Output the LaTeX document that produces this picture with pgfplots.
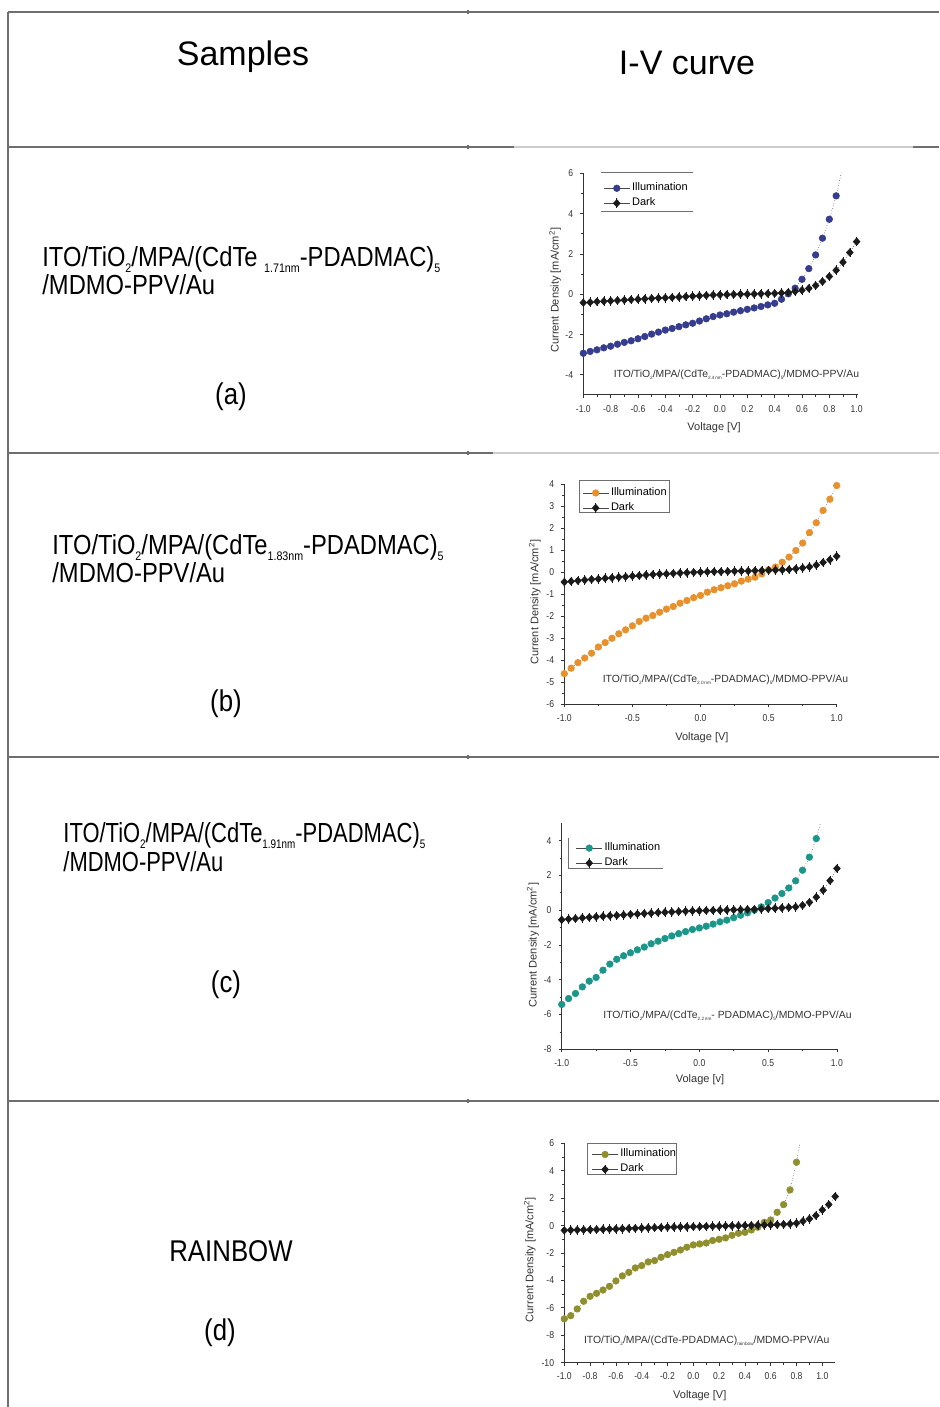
\documentclass[border=0pt]{standalone}
\usepackage{fontspec}
\setmainfont{Liberation Sans}
\newfontfamily\nar{Liberation Sans}[FakeStretch=0.86]
\usepackage{graphicx}
\usepackage{pgfplots}
\pgfplotsset{compat=1.18}

\definecolor{rule}{HTML}{6E6E6E}
\definecolor{rulelight}{HTML}{CDCDCD}
\definecolor{illA}{HTML}{363C8E}
\definecolor{illB}{HTML}{E8912C}
\definecolor{illC}{HTML}{1B968A}
\definecolor{illD}{HTML}{8F8F2E}
\definecolor{dk}{HTML}{1A1A1A}
\definecolor{axc}{HTML}{333333}

\newcommand\sub[1]{\raisebox{-0.35ex}{\scalebox{0.45}{#1}}}

% diamond with a short vertical stroke, as used for the dark curves
\pgfdeclareplotmark{dbar}{%
  \pgfpathmoveto{\pgfqpoint{0pt}{1.5\pgfplotmarksize}}%
  \pgfpathlineto{\pgfqpoint{0pt}{-1.5\pgfplotmarksize}}%
  \pgfusepathqstroke
  \pgfpathmoveto{\pgfqpoint{0pt}{1.15\pgfplotmarksize}}%
  \pgfpathlineto{\pgfqpoint{1.05\pgfplotmarksize}{0pt}}%
  \pgfpathlineto{\pgfqpoint{0pt}{-1.15\pgfplotmarksize}}%
  \pgfpathlineto{\pgfqpoint{-1.05\pgfplotmarksize}{0pt}}%
  \pgfpathclose
  \pgfusepathqfillstroke}

\pgfplotsset{
  ivstyle/.style={
    scale only axis,
    axis lines=left,
    axis line style={-, line width=0.5pt, draw=axc},
    tick align=outside,
    major tick length=1.6pt,
    minor tick length=1pt,
    every tick/.style={draw=axc, line width=0.4pt},
    minor x tick num=1, minor y tick num=1,
    tick label style={font=\nar\fontsize{5}{6}\selectfont, text=axc},
    yticklabel style={/pgf/number format/assume math mode=true},
    xticklabel style={/pgf/number format/.cd, fixed, fixed zerofill, precision=1, assume math mode=true},
    label style={font=\fontsize{5.5}{6}\selectfont, text=axc},
    ylabel={Current Density [mA/cm\textsuperscript{2}]},
    clip mode=individual,
    legend cell align=left,
    legend style={draw=none, fill=none, font=\fontsize{5.5}{6.5}\selectfont,
      inner sep=0pt, nodes={inner sep=1pt, text depth=0.15em}, anchor=north west},
    legend image code/.code={%
      \draw[#1, solid] (0pt,0pt) -- (13pt,0pt);
      \draw[#1, solid] plot coordinates {(6.5pt,0pt)};},
  },
  illum/.style={densely dotted, line width=0.3pt, draw=dk!80,
    mark=*, mark size=1.65pt, mark options={solid, fill=#1, draw=#1}},
  dark/.style={densely dotted, line width=0.3pt, draw=dk!80,
    mark=dbar, mark size=1.6pt, mark options={solid, fill=dk, draw=dk, line width=0.3pt}},
}

\begin{document}
\begin{tikzpicture}[x=0.5pt,y=0.5pt]
\path[use as bounding box] (0,0) rectangle (939,1407);

% table rules
\begin{scope}[line width=1pt]
\draw[rule] (8,1407-12) -- (939,1407-12);
\draw[rule] (8,1407-12) -- (8,0);
\draw[rule] (8,1407-147) -- (514,1407-147);
\draw[rulelight] (514,1407-147) -- (913,1407-147);
\draw[rule] (913,1407-147) -- (939,1407-147);
\draw[rule] (8,1407-453) -- (493,1407-453);
\draw[rulelight] (493,1407-453) -- (939,1407-453);
\draw[rule] (8,1407-757) -- (939,1407-757);
\draw[rule] (8,1407-1101) -- (939,1407-1101);
\end{scope}
\foreach \yy in {12,147,453,757,1101}
  \draw[rule, line width=0.6pt] (468,1407-\yy+2) -- (468,1407-\yy-2);

% headings
\node[font=\fontsize{17}{20}\selectfont] at (243,1407-57) {Samples};
\node[font=\fontsize{17}{20}\selectfont] at (687,1407-63) {I-V curve};

% sample descriptions
\begin{scope}[every node/.style={anchor=base west, font=\nar\fontsize{13.8}{16}\selectfont, inner sep=0pt}]
\node at (42,1407-267) {ITO/TiO\sub{2}/MPA/(CdTe \sub{1.71nm}-PDADMAC)\sub{5}};
\node at (42,1407-295) {/MDMO-PPV/Au};
\node at (52,1407-555) {ITO/TiO\sub{2}/MPA/(CdTe\sub{1.83nm}-PDADMAC)\sub{5}};
\node at (52,1407-583) {/MDMO-PPV/Au};
\node at (63,1407-843) {\scalebox{0.925}[1]{ITO/TiO\sub{2}/MPA/(CdTe\sub{1.91nm}-PDADMAC)\sub{5}}};
\node at (63,1407-872) {\scalebox{0.925}[1]{/MDMO-PPV/Au}};
\end{scope}
\begin{scope}[every node/.style={font=\nar\fontsize{15}{18}\selectfont}]
\node at (231,1407-397) {(a)};
\node at (226,1407-704) {(b)};
\node at (226,1407-985) {(c)};
\node at (231,1407-1251) {RAINBOW};
\node at (220,1407-1333) {(d)};
\end{scope}

% ---------- (a) ----------
\begin{axis}[ivstyle, at={(291.65pt,506pt)}, anchor=south west,
  width=137.35pt, height=110.85pt,
  xmin=-1, xmax=1.01, ymin=-5, ymax=6,
  xtick={-1,-0.8,-0.6,-0.4,-0.2,0,0.2,0.4,0.6,0.8,1},
  ytick={-4,-2,0,2,4,6},
  xlabel={Voltage [V]},
  xlabel style={at={(axis description cs:0.476,-0.149)}, anchor=center},
  ylabel style={at={(axis description cs:-0.103,0.473)}, anchor=center},
  legend style={at={(rel axis cs:0.072,0.968)}}]
\addplot[illum=illA] table {
-1.00 -2.93
-0.95 -2.84
-0.90 -2.76
-0.85 -2.66
-0.80 -2.58
-0.75 -2.48
-0.70 -2.39
-0.65 -2.31
-0.60 -2.21
-0.55 -2.10
-0.50 -1.98
-0.45 -1.88
-0.40 -1.78
-0.35 -1.70
-0.30 -1.61
-0.25 -1.52
-0.20 -1.44
-0.15 -1.33
-0.10 -1.22
-0.05 -1.11
0.00 -1.03
0.05 -0.97
0.10 -0.89
0.15 -0.82
0.20 -0.75
0.25 -0.68
0.30 -0.61
0.35 -0.53
0.40 -0.45
0.45 -0.25
0.50 0.02
0.55 0.30
0.60 0.74
0.65 1.27
0.70 1.95
0.75 2.78
0.80 3.72
0.85 4.88
0.90 6.40
};
\addlegendentry{Illumination}
\addplot[dark] table {
-1.00 -0.42
-0.95 -0.40
-0.90 -0.37
-0.85 -0.35
-0.80 -0.33
-0.75 -0.31
-0.70 -0.29
-0.65 -0.27
-0.60 -0.25
-0.55 -0.23
-0.50 -0.21
-0.45 -0.19
-0.40 -0.18
-0.35 -0.16
-0.30 -0.14
-0.25 -0.12
-0.20 -0.10
-0.15 -0.08
-0.10 -0.06
-0.05 -0.04
0.00 -0.03
0.05 -0.02
0.10 -0.01
0.15 0.00
0.20 0.00
0.25 0.01
0.30 0.02
0.35 0.03
0.40 0.04
0.45 0.06
0.50 0.09
0.55 0.14
0.60 0.20
0.65 0.29
0.70 0.43
0.75 0.63
0.80 0.88
0.85 1.19
0.90 1.59
0.95 2.07
1.00 2.61
};
\addlegendentry{Dark}
\draw[rule, line width=0.4pt] (rel axis cs:0.064,1.006) -- (rel axis cs:0.40,1.006);
\draw[rule, line width=0.4pt] (rel axis cs:0.064,0.83) -- (rel axis cs:0.40,0.83);
\node[anchor=west, font=\fontsize{5.2}{6}\selectfont, text=axc, inner sep=0pt]
  at (axis cs:-0.78,-4) {ITO/TiO\sub{2}/MPA/(CdTe\sub{2.4\,nm}-PDADMAC)\sub{5}/MDMO-PPV/Au};
\end{axis}

% ---------- (b) ----------
\begin{axis}[ivstyle, at={(282.15pt,351.35pt)}, anchor=south west,
  width=136.2pt, height=110.15pt,
  xmin=-1, xmax=1, ymin=-6, ymax=4,
  xtick={-1,-0.5,0,0.5,1},
  ytick={-6,-5,-4,-3,-2,-1,0,1,2,3,4},
  xlabel={Voltage [V]},
  xlabel style={at={(axis description cs:0.505,-0.153)}, anchor=center},
  ylabel style={at={(axis description cs:-0.108,0.464)}, anchor=center},
  legend style={at={(rel axis cs:0.065,0.995)}}]
\addplot[illum=illB] table {
-1.00 -4.61
-0.95 -4.36
-0.90 -4.11
-0.85 -3.90
-0.80 -3.68
-0.75 -3.40
-0.70 -3.20
-0.65 -3.00
-0.60 -2.80
-0.55 -2.62
-0.50 -2.44
-0.45 -2.24
-0.40 -2.09
-0.35 -1.97
-0.30 -1.82
-0.25 -1.68
-0.20 -1.56
-0.15 -1.41
-0.10 -1.29
-0.05 -1.16
0.00 -1.06
0.05 -0.91
0.10 -0.80
0.15 -0.71
0.20 -0.62
0.25 -0.53
0.30 -0.41
0.35 -0.32
0.40 -0.23
0.45 -0.08
0.50 0.11
0.55 0.23
0.60 0.45
0.65 0.68
0.70 0.98
0.75 1.32
0.80 1.79
0.85 2.24
0.90 2.80
0.95 3.31
1.00 3.93
};
\addlegendentry{Illumination}
\addplot[dark] table {
-1.00 -0.45
-0.95 -0.42
-0.90 -0.39
-0.85 -0.36
-0.80 -0.33
-0.75 -0.31
-0.70 -0.28
-0.65 -0.26
-0.60 -0.23
-0.55 -0.21
-0.50 -0.18
-0.45 -0.16
-0.40 -0.13
-0.35 -0.11
-0.30 -0.09
-0.25 -0.08
-0.20 -0.06
-0.15 -0.04
-0.10 -0.03
-0.05 -0.01
0.00 0.00
0.05 0.01
0.10 0.02
0.15 0.02
0.20 0.03
0.25 0.04
0.30 0.05
0.35 0.05
0.40 0.06
0.45 0.07
0.50 0.08
0.55 0.09
0.60 0.10
0.65 0.12
0.70 0.15
0.75 0.19
0.80 0.24
0.85 0.32
0.90 0.44
0.95 0.56
1.00 0.72
};
\addlegendentry{Dark}
\draw[rule, line width=0.4pt] (rel axis cs:0.054,0.873) rectangle (rel axis cs:0.384,1.018);
\node[anchor=west, font=\fontsize{5.2}{6}\selectfont, text=axc, inner sep=0pt]
  at (axis cs:-0.72,-4.9) {ITO/TiO\sub{2}/MPA/(CdTe\sub{2.0\,nm}-PDADMAC)\sub{5}/MDMO-PPV/Au};
\end{axis}

% ---------- (c) ----------
\begin{axis}[ivstyle, at={(280.85pt,178.85pt)}, anchor=south west,
  width=138.3pt, height=113pt,
  xmin=-1, xmax=1.01, ymin=-8, ymax=5,
  xtick={-1,-0.5,0,0.5,1},
  ytick={-8,-6,-4,-2,0,2,4},
  xlabel={Volage [v]},
  xlabel style={at={(axis description cs:0.5,-0.136)}, anchor=center},
  ylabel style={at={(axis description cs:-0.104,0.46)}, anchor=center},
  legend style={at={(rel axis cs:0.05,0.925)}}]
\addplot[illum=illC] table {
-1.00 -5.42
-0.95 -5.08
-0.90 -4.79
-0.85 -4.41
-0.80 -4.08
-0.75 -3.87
-0.70 -3.45
-0.65 -3.10
-0.60 -2.82
-0.55 -2.62
-0.50 -2.45
-0.45 -2.28
-0.40 -2.12
-0.35 -1.93
-0.30 -1.78
-0.25 -1.63
-0.20 -1.48
-0.15 -1.35
-0.10 -1.23
-0.05 -1.11
0.00 -1.02
0.05 -0.92
0.10 -0.80
0.15 -0.67
0.20 -0.57
0.25 -0.43
0.30 -0.29
0.35 -0.15
0.40 0.00
0.45 0.19
0.50 0.44
0.55 0.70
0.60 0.96
0.65 1.28
0.70 1.69
0.75 2.30
0.80 3.05
0.85 4.12
0.90 5.60
};
\addlegendentry{Illumination}
\addplot[dark] table {
-1.00 -0.55
-0.95 -0.51
-0.90 -0.48
-0.85 -0.44
-0.80 -0.41
-0.75 -0.38
-0.70 -0.35
-0.65 -0.32
-0.60 -0.30
-0.55 -0.27
-0.50 -0.24
-0.45 -0.22
-0.40 -0.19
-0.35 -0.17
-0.30 -0.14
-0.25 -0.12
-0.20 -0.10
-0.15 -0.08
-0.10 -0.06
-0.05 -0.04
0.00 -0.03
0.05 -0.02
0.10 -0.01
0.15 0.00
0.20 0.01
0.25 0.02
0.30 0.03
0.35 0.04
0.40 0.05
0.45 0.07
0.50 0.09
0.55 0.11
0.60 0.13
0.65 0.16
0.70 0.19
0.75 0.28
0.80 0.45
0.85 0.75
0.90 1.15
0.95 1.70
1.00 2.40
};
\addlegendentry{Dark}
\draw[rule, line width=0.4pt] (rel axis cs:0.023,0.935) -- (rel axis cs:0.023,0.802) -- (rel axis cs:0.366,0.802);
\node[anchor=west, font=\fontsize{5.2}{6}\selectfont, text=axc, inner sep=0pt]
  at (axis cs:-0.70,-6.1) {ITO/TiO\sub{2}/MPA/(CdTe\sub{2.2\,nm}- PDADMAC)\sub{5}/MDMO-PPV/Au};
\end{axis}

% ---------- (d) ----------
\begin{axis}[ivstyle, at={(282.15pt,22.15pt)}, anchor=south west,
  width=135.45pt, height=109.7pt,
  xmin=-1, xmax=1.1, ymin=-10, ymax=6,
  xtick={-1,-0.8,-0.6,-0.4,-0.2,0,0.2,0.4,0.6,0.8,1},
  ytick={-10,-8,-6,-4,-2,0,2,4,6},
  xlabel={Voltage [V]},
  xlabel style={at={(axis description cs:0.5,-0.152)}, anchor=center},
  ylabel style={at={(axis description cs:-0.127,0.47)}, anchor=center},
  legend style={at={(rel axis cs:0.1,0.985)}}]
\addplot[illum=illD] table {
-1.00 -6.80
-0.95 -6.57
-0.90 -6.08
-0.85 -5.52
-0.80 -5.16
-0.75 -4.94
-0.70 -4.70
-0.65 -4.43
-0.60 -4.04
-0.55 -3.67
-0.50 -3.41
-0.45 -3.09
-0.40 -2.92
-0.35 -2.65
-0.30 -2.55
-0.25 -2.31
-0.20 -2.12
-0.15 -1.95
-0.10 -1.78
-0.05 -1.58
0.00 -1.41
0.05 -1.34
0.10 -1.27
0.15 -1.09
0.20 -1.00
0.25 -0.90
0.30 -0.71
0.35 -0.56
0.40 -0.49
0.45 -0.32
0.50 -0.12
0.55 0.24
0.60 0.41
0.65 0.97
0.70 1.53
0.75 2.60
0.80 4.62
0.85 7.30
};
\addlegendentry{Illumination}
\addplot[dark] table {
-1.00 -0.35
-0.95 -0.33
-0.90 -0.32
-0.85 -0.31
-0.80 -0.30
-0.75 -0.29
-0.70 -0.27
-0.65 -0.26
-0.60 -0.25
-0.55 -0.23
-0.50 -0.21
-0.45 -0.20
-0.40 -0.18
-0.35 -0.17
-0.30 -0.15
-0.25 -0.14
-0.20 -0.12
-0.15 -0.11
-0.10 -0.10
-0.05 -0.09
0.00 -0.08
0.05 -0.07
0.10 -0.06
0.15 -0.05
0.20 -0.04
0.25 -0.03
0.30 -0.02
0.35 -0.01
0.40 0.00
0.45 0.01
0.50 0.03
0.55 0.04
0.60 0.05
0.65 0.07
0.70 0.09
0.75 0.12
0.80 0.17
0.85 0.32
0.90 0.49
0.95 0.73
1.00 1.14
1.05 1.53
1.10 2.12
};
\addlegendentry{Dark}
\draw[rule, line width=0.4pt] (rel axis cs:0.086,0.86) rectangle (rel axis cs:0.415,1.0);
\node[anchor=west, font=\fontsize{5.2}{6}\selectfont, text=axc, inner sep=0pt]
  at (axis cs:-0.85,-8.4) {ITO/TiO\sub{2}/MPA/(CdTe-PDADMAC)\sub{rainbow}/MDMO-PPV/Au};
\end{axis}
\end{tikzpicture}
\end{document}
